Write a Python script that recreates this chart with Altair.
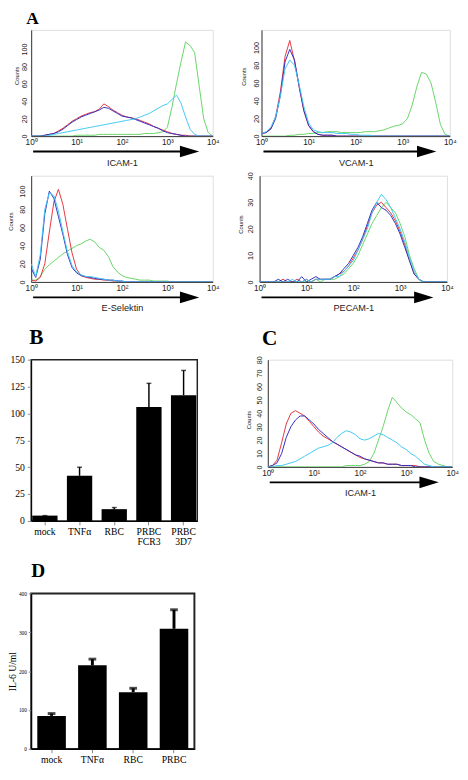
import altair as alt
import pandas as pd

# ---------------- data ----------------
BINS = [i / 10 for i in range(41)]  # log10 of channel value (10^0 .. 10^4)

# Panel A1: ICAM-1
a1_green = [0,0,0,0,0,0,0,0,0,0, 1,1,1,1,1,2,2,2,2,2, 2,2,2,2,2,3,3,3,4,5, 10,33,60,85,108,104,96,58,20,4, 0]
a1_red   = [0,0,0,1,2,3,6,9,13,17, 20,23,25,27,28,31,37,34,30,27, 24,22,21,20,18,16,14,11,9,7, 5,3,2,1,1,0,0,0,0,0, 0]
a1_blue  = [0,0,0,1,2,3,5,8,12,16, 19,22,24,26,28,30,33,32,29,26, 23,22,21,19,17,15,13,11,9,6, 4,3,2,1,0,0,0,0,0,0, 0]
a1_cyan  = [0,0,0,0,1,2,3,4,5,6, 7,8,9,10,11,12,13,14,15,16, 17,18,19,20,22,24,26,29,32,35, 37,42,47,38,22,8,2,0,0,0, 0]

# Panel A2: VCAM-1
a2_green = [0,0,0,0,0,0,1,1,2,2, 3,3,4,4,5,5,5,4,4,4, 4,4,5,5,5,6,7,9,11,12, 14,20,35,56,72,70,60,38,13,2, 0]
a2_red   = [3,4,9,22,50,90,108,85,55,28, 12,5,2,1,1,1,0,0,0,0, 0,0,0,0,0,0,0,0,0,0, 0,0,0,0,0,0,0,0,0,0, 0]
a2_blue  = [3,4,8,20,46,84,98,86,56,29, 12,5,2,1,1,1,0,0,0,0, 0,0,0,0,0,0,0,0,0,0, 0,0,0,0,0,0,0,0,0,0, 0]
a2_cyan  = [3,5,10,22,45,76,86,80,58,33, 15,7,5,4,4,4,3,3,3,2, 2,1,1,1,0,0,0,0,0,0, 0,0,0,0,0,0,0,0,0,0, 0]

# Panel A3: E-Selektin
a3_green = [2,2,6,14,19,23,27,31,34,37, 40,42,45,47,44,38,35,28,17,11, 7,5,4,3,2,2,2,1,1,1, 1,0,0,0,0,0,0,0,0,0, 0]
a3_red   = [2,1,5,20,55,88,102,85,58,32, 14,7,5,4,3,3,2,2,1,1, 0,0,0,0,0,0,0,0,0,0, 0,0,0,0,0,0,0,0,0,0, 0]
a3_blue  = [15,5,25,75,100,92,72,52,30,16, 10,7,6,5,4,3,3,2,2,1, 1,0,0,0,0,0,0,0,0,0, 0,0,0,0,0,0,0,0,0,0, 0]
a3_cyan  = [20,6,30,80,98,95,78,55,33,18, 11,8,6,6,5,4,3,2,2,1, 1,0,0,0,0,0,0,0,0,0, 0,0,0,0,0,0,0,0,0,0, 0]

# Panel A4: PECAM-1
a4_green = [0,0,0,0,0,0,0,0,0,0, 0,0,1,0,1,1,1,2,3,5, 7,10,14,18,22,25,28,30,28,26, 22,17,10,5,1,0,0,0,0,0, 0]
a4_red   = [0,0,0,0,0,1,0,0,1,0, 1,0,1,1,1,1,2,3,4,6, 9,12,16,21,26,29,30,28,26,23, 19,14,8,3,1,0,0,0,0,0, 0]
a4_blue  = [0,0,0,0,1,0,1,0,0,2, 0,1,2,1,1,1,2,3,5,7, 10,13,17,22,27,30,28,27,25,22, 18,13,8,3,1,0,0,0,0,0, 0]
a4_cyan  = [0,0,0,0,0,0,0,1,0,0, 1,0,1,1,1,1,2,2,4,6, 8,12,16,20,26,30,33,31,28,24, 20,15,9,4,1,0,0,0,0,0, 0]

# Panel C: ICAM-1
c_green = [0,0,0,0,0,0,0,0,0,0, 0,0,0,0,0,0,0,1,1,1, 1,2,4,10,20,30,42,52,48,44, 41,39,36,33,20,10,4,2,1,0, 0]
c_red   = [0,1,5,18,32,40,42,40,38,34, 30,26,23,21,19,17,15,13,11,9, 7,6,5,4,3,3,2,2,2,1, 1,1,1,0,0,0,0,0,0,0, 0]
c_blue  = [0,1,3,10,22,30,35,38,38,35, 32,28,25,22,19,17,15,13,11,9, 8,6,5,4,3,3,2,2,2,1, 1,1,0,0,0,0,0,0,0,0, 0]
c_cyan  = [0,0,1,1,2,3,4,6,8,10, 12,14,15,16,18,22,25,27,26,24, 21,20,21,23,25,24,22,20,18,15, 13,10,8,5,2,1,0,0,0,0, 0]

# Panel B
b_cats = ["mock", "TNFα", "RBC", "PRBC FCR3", "PRBC 3D7"]
b_vals = [5, 42, 11, 106, 117]
b_errtop = [5, 50, 12.5, 128, 140]

# Panel D
d_cats = ["mock", "TNFα", "RBC", "PRBC"]
d_vals = [85, 215, 146, 309]
d_errtop = [91, 231, 156, 358]

# ---------------- styling ----------------
COL = {"green": "#66d466", "red": "#e5343c", "blue": "#2e2ec2", "cyan": "#3ec8f2"}
SANS = "Liberation Sans"
SERIF = "Liberation Serif"
SUP = ("datum.value == 1 ? '10\u2070' : datum.value == 10 ? '10\u00b9' : "
       "datum.value == 100 ? '10\u00b2' : datum.value == 1000 ? '10\u00b3' : '10\u2074'")


def histo(series, w, h, ymax, yticks, xtitle, lpad, tpad, ty, title=None):
    xs = alt.Scale(type="log", domain=[1, 10000], nice=False)
    ys = alt.Scale(domain=[0, ymax], nice=False, zero=True)
    xaxis = alt.Axis(values=[1, 10, 100, 1000, 10000], labelExpr=SUP, labelFlush=False,
                     labelOverlap=False, ticks=False, labelPadding=2, labelFont=SANS,
                     labelFontSize=8.5, labelColor="#222", domainColor="#333", grid=False,
                     title=xtitle, titleFont=SANS, titleFontSize=9.5, titleFontWeight="normal",
                     titleColor="#222", titlePadding=11.5)
    yaxis = alt.Axis(values=yticks, labelAngle=270, labelAlign="center", labelBaseline="bottom",
                     labelFont=SANS, labelFontSize=7.5,
                     labelColor="#222", labelPadding=lpad, ticks=False, domainColor="#333",
                     grid=False, title="Counts", titleFont=SANS, titleFontSize=6,
                     titleFontWeight="normal", titleColor="#222", titlePadding=tpad, titleY=ty)
    layers = []
    for name, vals in series:
        df = pd.DataFrame({"ch": [10 ** b for b in BINS], "n": vals})
        layers.append(
            alt.Chart(df).mark_line(color=COL[name], strokeWidth=1, clip=True).encode(
                x=alt.X("ch:Q", scale=xs, axis=xaxis),
                y=alt.Y("n:Q", scale=ys, axis=yaxis),
            )
        )
    one = pd.DataFrame({"k": [0]})
    shaft = alt.Chart(one).mark_rule(color="black", strokeWidth=2).encode(
        x=alt.value(2), x2=alt.value(w - 33), y=alt.value(h + 16))
    head = alt.Chart(one).mark_point(shape="M-1,-0.6L1,0L-1,0.6Z", filled=True, color="black",
                                     size=400, opacity=1, strokeWidth=0).encode(
        x=alt.value(w - 24), y=alt.value(h + 16))
    ch = alt.layer(*layers, shaft, head).properties(width=w, height=h)
    if title is not None:
        ch = ch.properties(title=title)
    return ch


def order(g, r, b, c):
    return [("green", g), ("red", r), ("blue", b), ("cyan", c)]


TITLE_A = alt.TitleParams("A", anchor="start", frame="group", font=SERIF, fontSize=18,
                          fontWeight="bold", dx=-5, offset=2)
TITLE_C = alt.TitleParams("C", anchor="start", frame="group", font=SERIF, fontSize=22,
                          fontWeight="bold", dx=-6, offset=6)

a1 = histo(order(a1_green, a1_red, a1_blue, a1_cyan), 188, 110, 122, [0, 20, 40, 60, 80, 100],
           "ICAM-1", 2.5, 1.3, 47, title=TITLE_A)
a2 = histo(order(a2_green, a2_red, a2_blue, a2_cyan), 195, 110, 120, [0, 20, 40, 60, 80, 100],
           "VCAM-1", 1.2, 6.2, 48)
a3 = histo(order(a3_green, a3_red, a3_blue, a3_cyan), 188, 110, 117, [0, 20, 40, 60, 80, 100],
           "E-Selektin", 4.5, 5.5, 47)
a4 = histo(order(a4_green, a4_red, a4_blue, a4_cyan), 194, 110, 40, [0, 10, 20, 30, 40],
           "PECAM-1", 5.2, 3.2, 50)
c = histo(order(c_green, c_red, c_blue, c_cyan), 191, 111, 80, [0, 10, 20, 30, 40, 50, 60, 70, 80],
          "ICAM-1", 4.2, 4.2, 62, title=TITLE_C)


def bars(cats, vals, tops, w, h, ymax, yticks, pin, pout, ytitle, lblsize, ylblsize, ylpad, ytick,
         errw, capw, stroke_w, title, tsize, title_off, title_dx, min_ext, title_x=None):
    df = pd.DataFrame({"cat": cats, "v": vals, "top": tops})
    xs = alt.Scale(domain=cats, paddingInner=pin, paddingOuter=pout)
    ys = alt.Scale(domain=[0, ymax], nice=False)
    xaxis = alt.Axis(labelExpr="split(datum.label, ' ')", labelAngle=0, labelFont=SERIF,
                     labelFontSize=lblsize, labelColor="black", labelLineHeight=lblsize,
                     tickSize=4, labelPadding=2, domainColor="black", title=None, grid=False)
    ykw = dict(values=yticks, labelFont=SERIF, labelFontSize=ylblsize, labelColor="black",
               tickSize=ytick, labelPadding=ylpad, domainColor="black", grid=False,
               minExtent=min_ext, maxExtent=min_ext)
    if ytitle is not None:
        ykw.update(title=ytitle, titleFont=SERIF, titleFontSize=10, titleFontWeight="normal",
                   titleColor="black", titleX=title_x, titleY=h / 2, titleAngle=270,
                   titleAlign="center", titleBaseline="bottom")
    else:
        ykw.update(title=None)
    yaxis = alt.Axis(**ykw)
    base = alt.Chart(df)
    bar = base.mark_bar(color="black").encode(
        x=alt.X("cat:N", scale=xs, axis=xaxis, sort=cats),
        y=alt.Y("v:Q", scale=ys, axis=yaxis))
    err = base.mark_rule(color="black", strokeWidth=errw).encode(
        x=alt.X("cat:N", scale=xs, sort=cats, axis=xaxis), y=alt.Y("v:Q", axis=yaxis), y2="top:Q")
    cap = base.mark_tick(color="black", thickness=errw, size=capw, orient="horizontal").encode(
        x=alt.X("cat:N", scale=xs, sort=cats, axis=xaxis), y=alt.Y("top:Q", axis=yaxis))
    return alt.layer(bar, err, cap).properties(
        width=w, height=h,
        view=alt.ViewBackground(stroke="#222", strokeWidth=stroke_w),
        title=alt.TitleParams(title, anchor="start", frame="group", font=SERIF, fontSize=tsize,
                              fontWeight="bold", dx=title_dx, offset=title_off))


b = bars(b_cats, b_vals, b_errtop, 172, 167, 150, [0, 25, 50, 75, 100, 125, 150], 0.27, 0.03,
         None, 10, 10, 3, 4, 1.5, 5, 1.5, "B", 22, 6, -2, 33)
d = bars(d_cats, d_vals, d_errtop, 169, 161, 400, [0, 100, 200, 300, 400], 0.3, 0.15,
         "IL-6 U/ml", 10, 5.5, 2, 3, 3, 8, 2, "D", 20, 11, 0, 33, title_x=-14)

row1 = alt.hconcat(a1, a2, spacing=20.5)
row2 = alt.hconcat(a3, a4, spacing=17.5)
row3 = alt.hconcat(b, c, spacing=49)

low = alt.concat(row3, d, columns=1, align="none", spacing=14)
mid = alt.concat(row2, low, columns=1, align="none", spacing=13.5)
chart = alt.concat(row1, mid, columns=1, align="none", spacing=4).properties(
    padding={"left": -10, "top": -12, "right": 0, "bottom": 0}
).configure_view(stroke="#9a9a9a", strokeWidth=1).configure(background="white")

chart.save("out.html", embed_options={"renderer": "svg", "actions": False})
